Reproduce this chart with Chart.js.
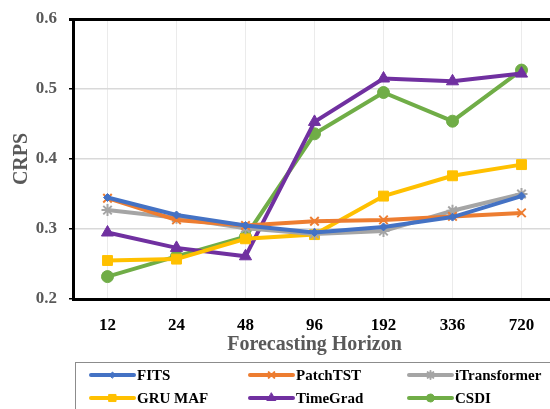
<!DOCTYPE html>
<html>
<head>
<meta charset="utf-8">
<script src="https://cdn.jsdelivr.net/npm/chart.js@4"></script>
<style>
  html, body { margin: 0; padding: 0; background: #fff; overflow: hidden; }
</style>
</head>
<body>
<canvas id="crps-chart" width="564" height="409"></canvas>
<script>
// data
const horizons = ["12", "24", "48", "96", "192", "336", "720"];
const yTicks = [0.2, 0.3, 0.4, 0.5, 0.6];

const fits = [0.345, 0.320, 0.305, 0.295, 0.303, 0.317, 0.347];
const patchTST = [0.344, 0.313, 0.305, 0.311, 0.313, 0.318, 0.323];
const iTransformer = [0.327, 0.316, 0.301, 0.293, 0.297, 0.326, 0.350];
const gruMaf = [0.255, 0.257, 0.286, 0.292, 0.347, 0.376, 0.392];
const timeGrad = [0.295, 0.273, 0.261, 0.453, 0.515, 0.511, 0.522];
const csdi = [0.232, 0.261, 0.289, 0.436, 0.495, 0.454, 0.527];

const seriesNames = ["FITS", "PatchTST", "iTransformer", "GRU MAF", "TimeGrad", "CSDI"];
const seriesColors = ["#4472C4", "#ED7D31", "#A5A5A5", "#FFC000", "#7030A0", "#70AD47"];
const seriesMarkers = ["rectRot", "crossRot", "star", "rect", "triangle", "circle"];
const markerSizes = [4, 6, 6, 7, 7, 6];
const legendMarkerSizes = [3, 4, 4, 5, 5, 4];

const FONT = "'Liberation Serif', 'Times New Roman', serif";

function makeDataset(i, values) {
  const filled = seriesMarkers[i] !== "crossRot" && seriesMarkers[i] !== "star";
  return {
    label: seriesNames[i],
    data: values,
    borderColor: seriesColors[i],
    backgroundColor: seriesColors[i],
    borderWidth: 4,
    pointStyle: seriesMarkers[i],
    pointRadius: markerSizes[i],
    pointHoverRadius: markerSizes[i],
    pointBorderWidth: filled ? 1 : 2,
    pointBackgroundColor: seriesColors[i],
    pointBorderColor: seriesColors[i],
    tension: 0,
    fill: false,
  };
}

/* legend box under the chart, line + marker swatches in 3 columns */
const boxLegend = {
  id: "boxLegend",
  afterDraw(chart) {
    const ctx = chart.ctx;
    const left = chart.chartArea.left + 2;
    const top = 362;
    ctx.save();
    ctx.strokeStyle = "#8c8c8c";
    ctx.lineWidth = 1;
    ctx.strokeRect(left + 0.5, top + 0.5, chart.width, 60);

    ctx.font = "bold 15px " + FONT;
    ctx.textBaseline = "middle";
    chart.data.datasets.forEach((ds, i) => {
      const col = i % 3;
      const row = Math.floor(i / 3);
      const x0 = left + 16 + col * 159;
      const y = top + 13 + row * 23;
      ctx.strokeStyle = ds.borderColor;
      ctx.lineWidth = 4;
      ctx.lineCap = "round";
      ctx.beginPath();
      ctx.moveTo(x0, y);
      ctx.lineTo(x0 + 43, y);
      ctx.stroke();
      ctx.fillStyle = ds.borderColor;
      ctx.lineWidth = ds.pointBorderWidth;
      Chart.helpers.drawPoint(ctx, {
        pointStyle: ds.pointStyle,
        radius: legendMarkerSizes[i],
        rotation: 0,
        borderWidth: ds.pointBorderWidth,
      }, x0 + 21.5, y);
      ctx.fillStyle = "#000";
      ctx.fillText(ds.label, x0 + 46, y + 1);
    });
    ctx.restore();
  },
};

const chart = new Chart(document.getElementById("crps-chart"), {
  type: "line",
  data: {
    labels: horizons,
    datasets: [
      makeDataset(0, fits),
      makeDataset(1, patchTST),
      makeDataset(2, iTransformer),
      makeDataset(3, gruMaf),
      makeDataset(4, timeGrad),
      makeDataset(5, csdi),
    ],
  },
  options: {
    responsive: false,
    animation: false,
    devicePixelRatio: 1,
    layout: { padding: { top: 19, right: 2, bottom: 52, left: 0 } },
    plugins: {
      legend: { display: false },
      tooltip: { enabled: false },
    },
    scales: {
      x: {
        offset: true,
        grid: { offset: false, color: "#ebebeb", lineWidth: 1, drawTicks: false },
        border: { color: "#000", width: 3 },
        ticks: {
          padding: 16,
          color: "#000",
          font: { family: FONT, size: 17, weight: "bold" },
        },
        title: {
          display: true,
          text: "Forecasting Horizon",
          color: "#595959",
          padding: 0,
          font: { family: FONT, size: 20, weight: "bold" },
        },
        afterFit(scale) {
          scale.height = 58;
          scale.paddingLeft = 0;
          scale.paddingRight = 0;
        },
      },
      y: {
        min: 0.2,
        max: 0.6,
        afterBuildTicks(scale) { scale.ticks = yTicks.map(v => ({ value: v })); },
        grid: {
          color: ctx => (ctx.tick && ctx.tick.value === 0.6 ? "#000" : "#d9d9d9"),
          lineWidth: ctx => (ctx.tick && ctx.tick.value === 0.6 ? 3 : 1.5),
          tickColor: "#000",
          tickLength: 4,
        },
        border: { color: "#000", width: 3 },
        ticks: {
          padding: 12,
          color: "#595959",
          font: { family: FONT, size: 17, weight: "bold" },
          callback: v => Number(v).toFixed(1),
        },
        title: {
          display: true,
          text: "CRPS",
          color: "#595959",
          padding: { top: 10, bottom: 0 },
          font: { family: FONT, size: 20, weight: "bold" },
        },
        afterFit(scale) {
          scale.width = 73;
          scale.paddingTop = 0;
          scale.paddingBottom = 0;
        },
      },
    },
  },
  plugins: [boxLegend],
});
</script>
</body>
</html>
